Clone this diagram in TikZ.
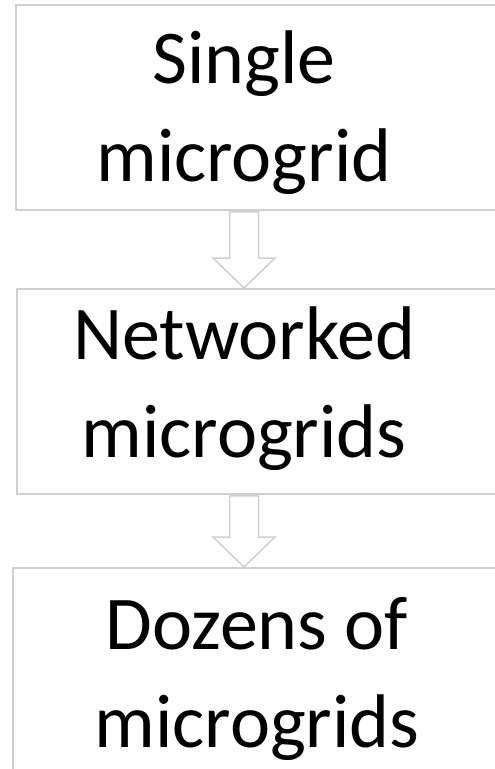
\documentclass[tikz,border=0pt]{standalone}
\usepackage{fontspec}
\setmainfont{Carlito}
\usetikzlibrary{calc}
\definecolor{edgegray}{RGB}{208,208,208}
\tikzset{
  stagebox/.style={draw=edgegray, line width=1.8pt, fill=white},
  stagetext/.style={font=\fontsize{76}{98}\selectfont, align=center, anchor=base, inner sep=0pt, text=black},
  flowarrow/.style={draw=edgegray, line width=1.5pt, fill=white, line join=miter},
}
\begin{document}
\begin{tikzpicture}[x=1pt, y=1pt]
  \useasboundingbox (0,0) rectangle (495,-769);
  \clip (0,0) rectangle (495,-769);
  \fill[white] (0,0) rectangle (495,-769);

  % stage boxes (they run past the right and bottom edges)
  \node[stagebox, minimum width=500pt, minimum height=205pt, anchor=north west] (b1) at (15,-4) {};
  \node[stagebox, minimum width=500pt, minimum height=205pt, anchor=north west] (b2) at (16,-288) {};
  \node[stagebox, minimum width=500pt, minimum height=230pt, anchor=north west] (b3) at (12,-567) {};

  % labels (base anchor sits on the last line)
  \node[stagetext] (t1) at (244,-181) {Single\\microgrid};
  \node[stagetext] (t2) at (244,-457) {Networked\\microgrids};
  \node[stagetext] (t3) at (257,-747) {Dozens of\\microgrids};

  % hollow block arrows between the stages
  \coordinate (a1s) at (b1.south -| 244,0);
  \coordinate (a1e) at (b2.north -| 244,0);
  \coordinate (a2s) at (b2.south -| 244,0);
  \coordinate (a2e) at (b3.north -| 244,0);
  \foreach \s/\e in {a1s/a1e, a2s/a2e} {
    \draw[flowarrow]
      ($(\s)+(-14.5,-1)$) -- ($(\s)+(14.5,-1)$) --
      ($(\e)+(14.5,30)$) -- ($(\e)+(31,30)$) -- (\e) --
      ($(\e)+(-31,30)$) -- ($(\e)+(-14.5,30)$) -- cycle;
  }
\end{tikzpicture}
\end{document}
